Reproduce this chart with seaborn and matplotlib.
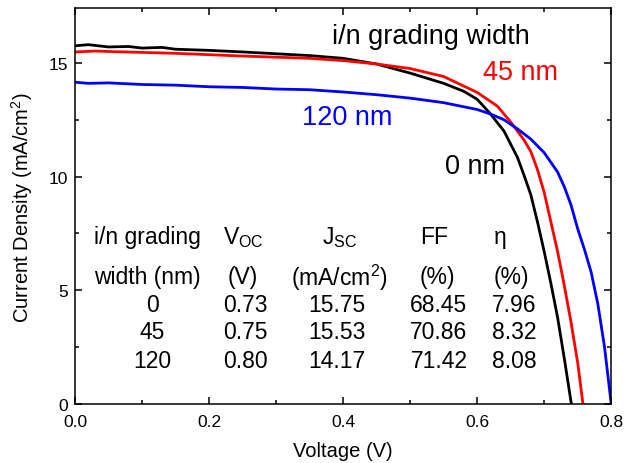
import matplotlib
matplotlib.use("Agg")
import matplotlib.pyplot as plt
from matplotlib.ticker import MultipleLocator
import seaborn as sns

# J-V curves
v_0nm = [0.0, 0.02, 0.05, 0.08, 0.1, 0.13, 0.15, 0.2, 0.25, 0.3, 0.35, 0.4, 0.45, 0.5, 0.55,
         0.58, 0.6, 0.62, 0.64, 0.66, 0.67, 0.68, 0.69, 0.70, 0.71, 0.72, 0.73, 0.74, 0.745]
j_0nm = [15.75, 15.80, 15.70, 15.72, 15.65, 15.68, 15.60, 15.55, 15.48, 15.40, 15.32, 15.20,
         14.95, 14.55, 14.10, 13.75, 13.40, 12.75, 12.00, 10.85, 10.05, 9.20, 8.00, 6.70,
         5.30, 3.80, 2.00, 0.10, -0.8]

v_45nm = [0.0, 0.03, 0.05, 0.1, 0.15, 0.2, 0.25, 0.3, 0.35, 0.4, 0.45, 0.5, 0.55, 0.6,
          0.63, 0.65, 0.67, 0.68, 0.69, 0.70, 0.71, 0.72, 0.73, 0.74, 0.75, 0.76]
j_45nm = [15.48, 15.52, 15.50, 15.46, 15.42, 15.36, 15.30, 15.25, 15.20, 15.10, 14.95, 14.75,
          14.40, 13.70, 13.10, 12.40, 11.60, 11.10, 10.30, 9.30, 8.00, 6.70, 5.20, 3.60,
          1.80, -0.5]

v_120nm = [0.0, 0.02, 0.05, 0.1, 0.15, 0.2, 0.25, 0.3, 0.35, 0.4, 0.45, 0.5, 0.55, 0.6,
           0.62, 0.64, 0.66, 0.68, 0.70, 0.72, 0.73, 0.74, 0.75, 0.76, 0.77, 0.78, 0.79, 0.80]
j_120nm = [14.15, 14.10, 14.12, 14.05, 14.02, 13.95, 13.92, 13.85, 13.82, 13.72, 13.60, 13.45,
           13.25, 12.95, 12.75, 12.50, 12.10, 11.65, 11.05, 10.20, 9.55, 8.75, 7.70, 6.80,
           5.80, 4.40, 2.50, 0.0]

# table inside the plot
widths = ["0", "45", "120"]
voc = ["0.73", "0.75", "0.80"]
jsc = ["15.75", "15.53", "14.17"]
ff = ["68.45", "70.86", "71.42"]
eta = ["7.96", "8.32", "8.08"]

sns.set_style("ticks", {"axes.edgecolor": "black", "text.color": "black",
                        "axes.labelcolor": "black", "xtick.color": "black",
                        "ytick.color": "black"})
plt.rcParams["font.family"] = ["Liberation Sans", "DejaVu Sans"]
plt.rcParams["mathtext.fontset"] = "custom"
plt.rcParams["mathtext.rm"] = "Liberation Sans"
plt.rcParams["mathtext.it"] = "Liberation Sans:italic"

fig = plt.figure(figsize=(6.25, 4.64), dpi=100)
ax = fig.add_axes([0.12, 0.127, 0.858, 0.853])

lw = 2.0
sns.lineplot(x=v_0nm, y=j_0nm, color="black", lw=lw, ax=ax, sort=False, estimator=None)
sns.lineplot(x=v_45nm, y=j_45nm, color="red", lw=lw, ax=ax, sort=False, estimator=None)
sns.lineplot(x=v_120nm, y=j_120nm, color="blue", lw=lw, ax=ax, sort=False, estimator=None)

ax.set_xlim(0, 0.8)
ax.set_ylim(0, 17.4)
ax.xaxis.set_major_locator(MultipleLocator(0.2))
ax.xaxis.set_minor_locator(MultipleLocator(0.1))
ax.yaxis.set_major_locator(MultipleLocator(5))
ax.yaxis.set_minor_locator(MultipleLocator(2.5))
ax.tick_params(which="both", direction="in", top=True, right=True, labelsize=12.5,
               width=1.1, colors="black")
ax.tick_params(which="major", length=5)
ax.tick_params(which="minor", length=3)
ax.tick_params(axis="x", pad=7)
ax.tick_params(axis="y", pad=5)
for s in ax.spines.values():
    s.set_linewidth(1.1)
    s.set_color("black")
ax.set_xlabel("Voltage (V)", fontsize=14.5, labelpad=9, color="black")
ax.set_ylabel("Current Density (mA/cm$^2$)", fontsize=14.5, labelpad=10, color="black")

# curve labels
lf = 19.5
ax.text(0.531, 16.2, "i/n grading width", fontsize=lf, ha="center", va="center")
ax.text(0.664, 14.6, "45 nm", fontsize=lf, color="red", ha="center", va="center")
ax.text(0.406, 12.64, "120 nm", fontsize=lf, color="blue", ha="center", va="center")
ax.text(0.597, 10.45, "0 nm", fontsize=lf, color="black", ha="center", va="center")

fs = 16.5
ax.text(0.028, 7.36, "i/n grading", fontsize=fs, va="center")
ax.text(0.028, 5.6, "width (nm)", fontsize=fs, va="center")
ax.text(0.251, 7.36, r"V$_{\mathrm{OC}}$", fontsize=fs, ha="center", va="center")
ax.text(0.251, 5.6, "(V)", fontsize=fs, ha="center", va="center")
ax.text(0.394, 7.36, r"J$_{\mathrm{SC}}$", fontsize=fs, ha="center", va="center")
ax.text(0.394, 5.6, "(mA/cm$^2$)", fontsize=fs, ha="center", va="center")
ax.text(0.536, 7.36, "FF", fontsize=fs, ha="center", va="center")
ax.text(0.541, 5.6, "(%)", fontsize=fs, ha="center", va="center")
ax.text(0.625, 7.36, "η", fontsize=fs, va="center")
ax.text(0.624, 5.6, "(%)", fontsize=fs, va="center")

rows_y = [4.36, 3.17, 1.9]
for i, y in enumerate(rows_y):
    ax.text(0.115, y, widths[i], fontsize=fs, ha="center", va="center")
    ax.text(0.254, y, voc[i], fontsize=fs, ha="center", va="center")
    ax.text(0.391, y, jsc[i], fontsize=fs, ha="center", va="center")
    ax.text(0.543, y, ff[i], fontsize=fs, ha="center", va="center")
    ax.text(0.622, y, eta[i], fontsize=fs, va="center")

fig.savefig("out.png", dpi=100)
